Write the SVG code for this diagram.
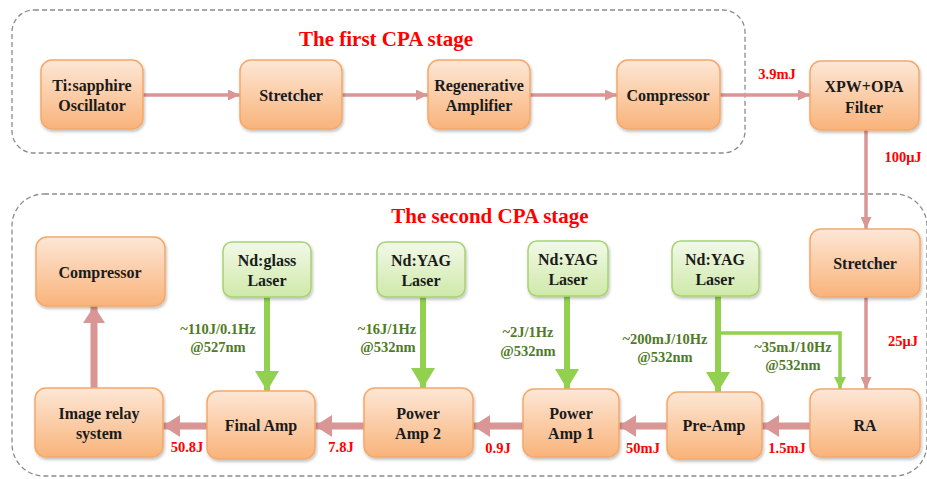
<svg xmlns="http://www.w3.org/2000/svg" width="927" height="479" viewBox="0 0 927 479" font-family="'Liberation Serif', 'Times New Roman', serif" font-weight="bold">
<defs>
<linearGradient id="gOr" x1="0" y1="0" x2="0" y2="1">
<stop offset="0" stop-color="#fde7d6"/>
<stop offset="1" stop-color="#f9b37a"/>
</linearGradient>
<linearGradient id="gGr" x1="0" y1="0" x2="0" y2="1">
<stop offset="0" stop-color="#f2f9e8"/>
<stop offset="1" stop-color="#cfe9a9"/>
</linearGradient>
<filter id="sh" x="-10%" y="-10%" width="125%" height="130%">
<feDropShadow dx="1" dy="2" stdDeviation="1.5" flood-color="#000" flood-opacity="0.25"/>
</filter>
<marker id="mPinkS" markerUnits="userSpaceOnUse" markerWidth="12" markerHeight="11" refX="12" refY="5.5" orient="auto">
<path d="M0,0 L12,5.5 L0,11 z" fill="#d99694"/>
</marker>
<marker id="mPinkL" markerUnits="userSpaceOnUse" markerWidth="17" markerHeight="22" refX="17" refY="11" orient="auto">
<path d="M0,0 L17,11 L0,22 z" fill="#d99694"/>
</marker>
<marker id="mGrL" markerUnits="userSpaceOnUse" markerWidth="20" markerHeight="24" refX="20" refY="12" orient="auto">
<path d="M0,0 L20,12 L0,24 z" fill="#92d050"/>
</marker>
<marker id="mGrS" markerUnits="userSpaceOnUse" markerWidth="12" markerHeight="12" refX="12" refY="6" orient="auto">
<path d="M0,0 L12,6 L0,12 z" fill="#92d050"/>
</marker>
</defs>
<style>
.box{fill:none;stroke:#8c8c8c;stroke-width:1.3;stroke-dasharray:5 3;}
.title{font-size:21px;fill:#ff0000;text-anchor:middle;}
.or rect{fill:url(#gOr);stroke:#f5a868;stroke-width:1.5;filter:url(#sh);}
.gr rect{fill:url(#gGr);stroke:#a5d46e;stroke-width:1.5;filter:url(#sh);}
.node text{font-size:16px;fill:#1a1a1a;text-anchor:middle;}
.pS{stroke:#d99694;stroke-width:3.5;fill:none;marker-end:url(#mPinkS);}
.pL{stroke:#d99694;stroke-width:7;fill:none;marker-end:url(#mPinkL);}
.gL{stroke:#92d050;stroke-width:6;fill:none;marker-end:url(#mGrL);}
.gS{stroke:#92d050;stroke-width:3.5;fill:none;marker-end:url(#mGrS);}
.red{font-size:14.5px;fill:#ff0000;text-anchor:middle;}
.grn{font-size:14.5px;fill:#4f7b27;text-anchor:middle;}
</style>

<rect class="box" x="12" y="10" width="733" height="143" rx="22"/>
<rect class="box" x="12" y="194" width="915" height="282" rx="32"/>
<text class="title" x="386" y="46">The first CPA stage</text>
<text class="title" x="490" y="223">The second CPA stage</text>

<g id="connectors">
<line class="pS" x1="143" y1="95" x2="240" y2="95"/>
<line class="pS" x1="342" y1="95" x2="428" y2="95"/>
<line class="pS" x1="530" y1="95" x2="617" y2="95"/>
<line class="pS" x1="720" y1="95" x2="810" y2="95"/>
<line class="pS" x1="866" y1="130" x2="866" y2="229"/>
<line class="pS" x1="866" y1="297" x2="866" y2="389"/>
<line class="pL" x1="810" y1="426" x2="762" y2="426"/>
<line class="pL" x1="667" y1="426" x2="619" y2="426"/>
<line class="pL" x1="523" y1="426" x2="473" y2="426"/>
<line class="pL" x1="364" y1="426" x2="315" y2="426"/>
<line class="pL" x1="207" y1="426" x2="163" y2="426"/>
<line class="pL" x1="94" y1="388" x2="94" y2="306"/>
<line class="gL" x1="267" y1="297" x2="267" y2="391"/>
<line class="gL" x1="423" y1="297" x2="423" y2="388"/>
<line class="gL" x1="567" y1="296" x2="567" y2="389"/>
<line class="gL" x1="718" y1="296" x2="718" y2="392"/>
<polyline class="gS" points="718,333 840,333 840,389"/>
</g>

<g id="n-osc" class="node or"><rect x="41" y="60" width="102" height="69" rx="11"/><text x="92" y="91">Ti:sapphire</text><text x="92" y="111">Oscillator</text></g>
<g id="n-str1" class="node or"><rect x="240" y="60" width="102" height="69" rx="11"/><text x="291" y="101">Stretcher</text></g>
<g id="n-regen" class="node or"><rect x="428" y="60" width="102" height="69" rx="11"/><text x="479" y="91">Regenerative</text><text x="479" y="111">Amplifier</text></g>
<g id="n-comp1" class="node or"><rect x="617" y="60" width="103" height="69" rx="11"/><text x="668" y="101">Compressor</text></g>
<g id="n-xpw" class="node or"><rect x="810" y="61" width="109" height="69" rx="11"/><text x="864" y="92">XPW+OPA</text><text x="864" y="113">Filter</text></g>

<g id="n-comp2" class="node or"><rect x="36" y="237" width="129" height="69" rx="11"/><text x="100" y="278">Compressor</text></g>
<g id="n-ndglass" class="node gr"><rect x="223" y="242" width="88" height="55" rx="9"/><text x="267" y="266">Nd:glass</text><text x="267" y="286">Laser</text></g>
<g id="n-yag1" class="node gr"><rect x="377" y="242" width="88" height="55" rx="9"/><text x="421" y="266">Nd:YAG</text><text x="421" y="286">Laser</text></g>
<g id="n-yag2" class="node gr"><rect x="528" y="241" width="80" height="55" rx="9"/><text x="568" y="265">Nd:YAG</text><text x="568" y="285">Laser</text></g>
<g id="n-yag3" class="node gr"><rect x="672" y="241" width="87" height="55" rx="9"/><text x="715" y="265">Nd:YAG</text><text x="715" y="285">Laser</text></g>
<g id="n-str2" class="node or"><rect x="810" y="229" width="110" height="68" rx="11"/><text x="865" y="269">Stretcher</text></g>

<g id="n-relay" class="node or"><rect x="35" y="388" width="128" height="69" rx="11"/><text x="99" y="419">Image relay</text><text x="99" y="439">system</text></g>
<g id="n-final" class="node or"><rect x="207" y="391" width="108" height="68" rx="11"/><text x="261" y="431">Final Amp</text></g>
<g id="n-pa2" class="node or"><rect x="364" y="388" width="109" height="69" rx="11"/><text x="418" y="419">Power</text><text x="418" y="439">Amp 2</text></g>
<g id="n-pa1" class="node or"><rect x="523" y="389" width="96" height="68" rx="11"/><text x="571" y="419">Power</text><text x="571" y="439">Amp 1</text></g>
<g id="n-pre" class="node or"><rect x="667" y="392" width="95" height="67" rx="11"/><text x="714" y="431">Pre-Amp</text></g>
<g id="n-ra" class="node or"><rect x="810" y="389" width="110" height="68" rx="11"/><text x="865" y="431">RA</text></g>

<g id="labels">
<text class="red" x="777" y="79">3.9mJ</text>
<text class="red" x="903" y="162">100μJ</text>
<text class="red" x="903" y="346">25μJ</text>
<text class="red" x="787" y="453">1.5mJ</text>
<text class="red" x="643" y="453">50mJ</text>
<text class="red" x="498" y="453">0.9J</text>
<text class="red" x="341" y="452">7.8J</text>
<text class="red" x="187" y="452">50.8J</text>
<text class="grn" x="218" y="334">~110J/0.1Hz</text>
<text class="grn" x="218" y="352">@527nm</text>
<text class="grn" x="387" y="334">~16J/1Hz</text>
<text class="grn" x="388" y="352">@532nm</text>
<text class="grn" x="528" y="337">~2J/1Hz</text>
<text class="grn" x="528" y="356">@532nm</text>
<text class="grn" x="665" y="344">~200mJ/10Hz</text>
<text class="grn" x="665" y="362">@532nm</text>
<text class="grn" x="793" y="352">~35mJ/10Hz</text>
<text class="grn" x="793" y="370">@532nm</text>
</g>
</svg>
